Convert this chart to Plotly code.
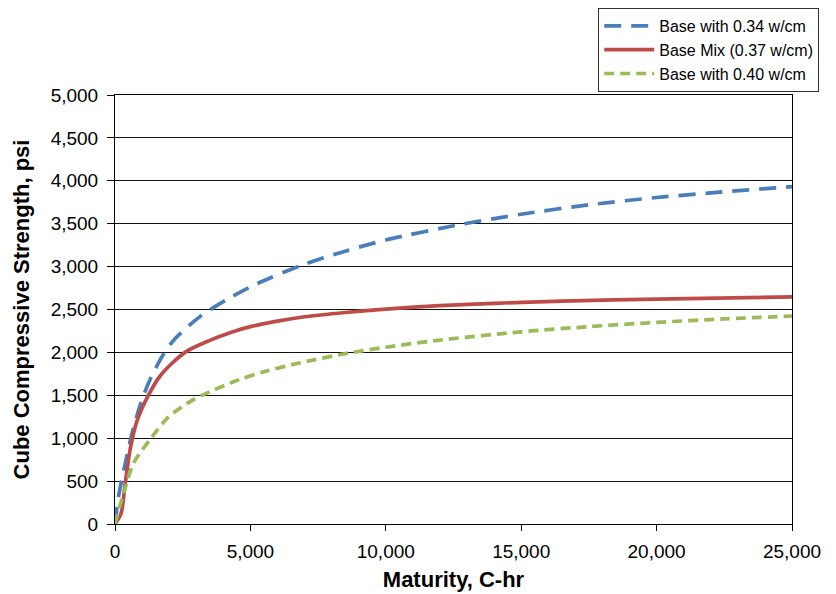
import plotly.graph_objects as go

# Maturity (C-hr) and strength (psi)
blue_x = [0, 130, 380, 616, 934, 1304, 1784, 2216, 3150, 4258, 5244, 6840, 8500, 10000, 12740, 15000, 17500, 20000, 22220, 25000]
blue_y = [0, 320, 707, 1040, 1390, 1690, 1975, 2160, 2420, 2640, 2800, 3010, 3180, 3310, 3490, 3610, 3720, 3805, 3865, 3932]

red_x = [0, 220, 380, 565, 810, 1231, 1700, 2585, 3500, 4300, 5000, 6000, 7000, 8500, 10000, 12000, 14000, 16500, 20000, 25000]
red_y = [0, 120, 480, 880, 1200, 1500, 1740, 2000, 2140, 2235, 2300, 2365, 2415, 2465, 2505, 2545, 2572, 2598, 2622, 2647]

green_x = [0, 318, 687, 1355, 1920, 2659, 3212, 4616, 5500, 6843, 8678, 10000, 11754, 15000, 17500, 20000, 22500, 25000]
green_y = [0, 358, 710, 1010, 1230, 1405, 1500, 1686, 1775, 1880, 1995, 2060, 2135, 2240, 2300, 2350, 2390, 2424]

names = ["Base with 0.34 w/cm", "Base Mix (0.37 w/cm)", "Base with 0.40 w/cm"]
x_ticks = [0, 5000, 10000, 15000, 20000, 25000]
y_ticks = list(range(0, 5001, 500))

FONT = "Arial, Liberation Sans, sans-serif"

fig = go.Figure()
fig.add_trace(go.Scatter(x=blue_x, y=blue_y, mode="lines", name=names[0],
                         line=dict(color="#4A7EBB", width=3.7, dash="17px,10px", shape="spline", smoothing=0.8)))
fig.add_trace(go.Scatter(x=red_x, y=red_y, mode="lines", name=names[1],
                         line=dict(color="#BE4B48", width=3.7, shape="spline", smoothing=0.8)))
fig.add_trace(go.Scatter(x=green_x, y=green_y, mode="lines", name=names[2],
                         line=dict(color="#9BBB59", width=3.7, dash="10px,6px", shape="spline", smoothing=0.8)))

fig.update_layout(
    width=836, height=594,
    margin=dict(l=107, r=52, t=87, b=78, autoexpand=False),
    paper_bgcolor="white", plot_bgcolor="white",
    font=dict(family=FONT, color="black", size=19),
    legend=dict(xref="container", yref="container", x=0.706, y=1.0, xanchor="left", yanchor="top",
                bordercolor="#333", borderwidth=1, bgcolor="white",
                font=dict(size=16, family=FONT), tracegroupgap=0, itemwidth=50),
    xaxis=dict(range=[0, 25000], tickvals=x_ticks, tickformat=",",
               showline=True, linecolor="black", linewidth=1, mirror=True,
               ticks="outside", ticklen=6, tickcolor="black", ticklabelstandoff=4,
               showgrid=False, zeroline=False, automargin=False,
               title=dict(text="<b>Maturity, C-hr</b>", font=dict(size=22, family=FONT), standoff=10)),
    yaxis=dict(range=[0, 5000], tickvals=y_ticks, tickformat=",",
               showline=True, linecolor="black", linewidth=1, mirror=True,
               ticks="outside", ticklen=7, tickcolor="black", ticklabelstandoff=5,
               showgrid=True, gridcolor="#111", gridwidth=1, zeroline=False, automargin=False,
               title=dict(text="<b>Cube Compressive Strength, psi</b>", font=dict(size=22, family=FONT), standoff=14)),
)

fig.write_html("out.html")
